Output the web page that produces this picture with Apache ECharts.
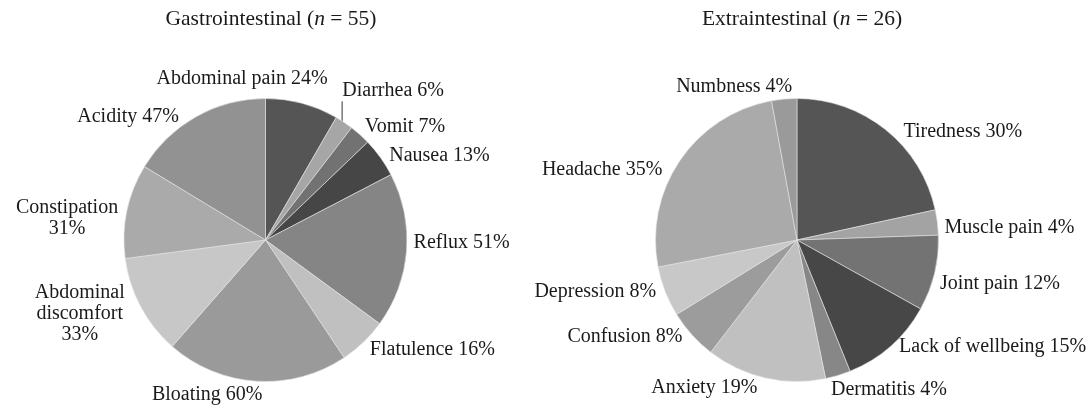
<!DOCTYPE html>
<html><head><meta charset="utf-8">
<script src="https://cdn.jsdelivr.net/npm/echarts@6/dist/echarts.min.js"></script>
<style>html,body{margin:0;padding:0;background:#fff}#c{width:1091px;height:410px}</style>
</head><body><div id="c"></div>
<script>
// ---- data ----
const giNames = ['Abdominal pain','Diarrhea','Vomit','Nausea','Reflux','Flatulence','Bloating','Abdominal\ndiscomfort','Constipation','Acidity'];
const giValues = [24,6,7,13,51,16,60,33,31,47];
const giBreak = [0,0,0,0,0,0,0,1,1,0];

const exNames = ['Tiredness','Muscle pain','Joint pain','Lack of wellbeing','Dermatitis','Anxiety','Confusion','Depression','Headache','Numbness'];
const exValues = [30,4,12,15,4,19,8,8,35,4];
const exBreak = [0,0,0,0,0,0,0,0,0,0];

// ---- styles / layout ----
const giColors = ['#555555','#a6a6a6','#727272','#464646','#858585','#c0c0c0','#9a9a9a','#c7c7c7','#aaaaaa','#929292'];
const exColors = ['#555555','#a3a3a3','#737373','#474747','#878787','#c0c0c0','#9c9c9c','#c8c8c8','#aaaaaa','#9a9a9a'];
// label nudges (dx, dy) from the slice's outer edge point, label centred
const giShift = [[-60,-25],[49,-32],[45,-8],[59,-2],[55,-8],[69,8],[-49,14],[-61,7],[-60,7],[-68,0]];
const exShift = [[77,2],[72,5.5],[65.5,10],[102,1],[51,14],[-61,10],[-67,2],[-70,0],[-78,10],[-50,-12]];
const leaderIndex = 1; // Diarrhea has a short vertical leader line

const FONT = 'Liberation Serif';
const FS = 20;
function build(names, values, brk, colors, withLeader) {
  return names.map((n, i) => {
    const d = {
      name: n, value: values[i],
      itemStyle: { color: colors[i] },
      label: { formatter: n + (brk[i] ? '\n' : ' ') + values[i] + '%' }
    };
    if (withLeader && i === leaderIndex) {
      d.labelLine = { show: true, length: 0, length2: 0, lineStyle: { color: '#333', width: 1 } };
    }
    return d;
  });
}
const chart = echarts.init(document.getElementById('c'));
function pieSeries(center, data, shift, withLeader) {
  return {
    type: 'pie', center: center, radius: 141.5, startAngle: 90, clockwise: true,
    avoidLabelOverlap: false, animation: false,
    itemStyle: { borderColor: '#e4e4e4', borderWidth: 0.6 },
    label: { show: true, position: 'outside', color: '#1a1a1a', fontFamily: FONT, fontSize: FS, lineHeight: 21,
             distanceToLabelLine: 0 },
    labelLine: { show: false, length: 0, length2: 0 },
    labelLayout: function (p) {
      const s = shift[p.dataIndex];
      const o = { dx: s[0], dy: s[1], align: 'center', verticalAlign: 'middle', hideOverlap: false, moveOverlap: null };
      if (withLeader && p.dataIndex === leaderIndex && p.labelLinePoints) {
        const p0 = p.labelLinePoints[0];
        o.labelLinePoints = [[p0[0] - 2, p0[1]], [p0[0] - 2, p0[1] - 21]];
      }
      return o;
    },
    emphasis: { disabled: true },
    data: data
  };
}
const titleStyle = { fontFamily: FONT, fontSize: 21.5, fontWeight: 'normal', color: '#1a1a1a',
  rich: { i: { fontFamily: FONT, fontSize: 21.5, fontStyle: 'italic', color: '#1a1a1a' } } };
chart.setOption({
  title: [
    { text: 'Gastrointestinal ({i|n} = 55)', left: 266, top: 3, textAlign: 'center', textStyle: titleStyle },
    { text: 'Extraintestinal ({i|n} = 26)', left: 797, top: 3, textAlign: 'center', textStyle: titleStyle }
  ],
  series: [
    pieSeries([265.5, 240], build(giNames, giValues, giBreak, giColors, true), giShift, true),
    pieSeries([797, 240], build(exNames, exValues, exBreak, exColors, false), exShift, false)
  ]
});
</script></body></html>
